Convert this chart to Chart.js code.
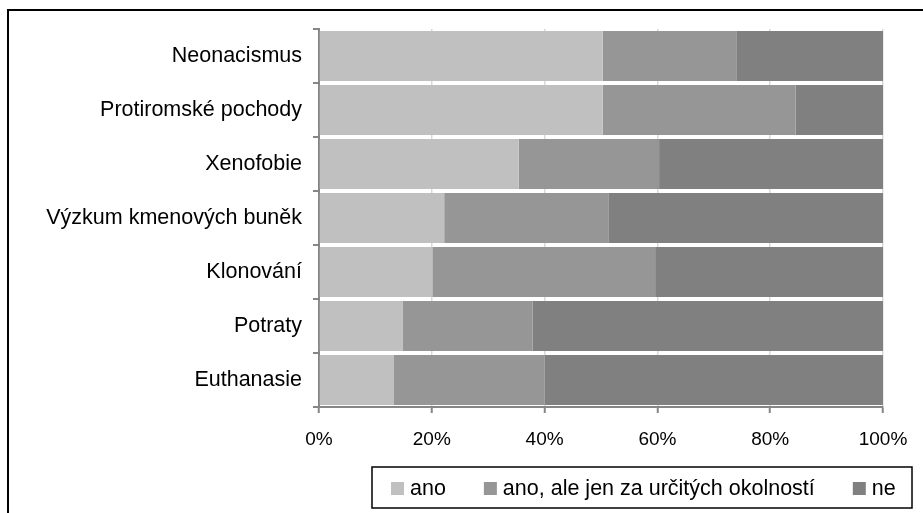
<!DOCTYPE html>
<html>
<head>
<meta charset="utf-8">
<script src="https://cdn.jsdelivr.net/npm/chart.js@4"></script>
<style>
  html, body { margin: 0; padding: 0; background: #fff; }
  #wrap { width: 923px; height: 513px; }
</style>
</head>
<body>
<div id="wrap"><canvas id="graf" width="923" height="513"></canvas></div>
<script>
// data (podíl odpovědí v %)
const kategorie = ['Neonacismus', 'Protiromské pochody', 'Xenofobie', 'Výzkum kmenových buněk', 'Klonování', 'Potraty', 'Euthanasie'];
const ano = [50.3, 50.3, 35.4, 22.2, 20.1, 14.8, 13.3];
const anoAle = [23.8, 34.2, 24.9, 29.2, 39.5, 23.1, 26.7];
const ne = [25.9, 15.5, 39.7, 48.6, 40.4, 62.1, 60.0];
const xTicky = [0, 20, 40, 60, 80, 100];

const pismo = 'Liberation Sans, Arial, sans-serif';

// rámeček kolem plochy + vlastní legenda v rámečku
const ramecky = {
    id: 'ramecky',
    afterDraw(chart) {
        const c = chart.ctx;
        c.save();
        c.strokeStyle = '#000';
        c.lineWidth = 2;
        c.beginPath();
        c.moveTo(8, 513);
        c.lineTo(8, 10);
        c.lineTo(923, 10);
        c.stroke();

        // legenda
        c.lineWidth = 1.5;
        c.strokeRect(372, 467, 540, 41);
        c.font = '21.5px ' + pismo;
        c.textBaseline = 'middle';
        let x = 391;
        const y = 489;
        chart.data.datasets.forEach(ds => {
            c.fillStyle = ds.backgroundColor;
            c.fillRect(x, y - 7, 13, 13);
            c.fillStyle = '#000';
            c.fillText(ds.label, x + 19, y);
            x += 19 + c.measureText(ds.label).width + 38;
        });
        c.restore();
    }
};

document.addEventListener('DOMContentLoaded', function () {
    const ctx = document.getElementById('graf').getContext('2d');
    new Chart(ctx, {
        type: 'bar',
        data: {
            labels: kategorie,
            datasets: [
                { label: 'ano', data: ano, backgroundColor: '#c0c0c0' },
                { label: 'ano, ale jen za určitých okolností', data: anoAle, backgroundColor: '#969696' },
                { label: 'ne', data: ne, backgroundColor: '#808080' }
            ]
        },
        options: {
            indexAxis: 'y',
            responsive: false,
            animation: false,
            datasets: { bar: { barPercentage: 0.93, categoryPercentage: 1 } },
            layout: { padding: { left: 10, right: 40, top: 29, bottom: 0 } },
            scales: {
                x: {
                    stacked: true,
                    min: 0, max: 100,
                    afterBuildTicks(s) { s.ticks = xTicky.map(v => ({ value: v })); },
                    afterFit(s) { s.height = 106; },
                    ticks: {
                        callback: v => v + '%',
                        color: '#000',
                        padding: 15,
                        font: { family: pismo, size: 19 }
                    },
                    grid: { color: '#d9d9d9', lineWidth: 1.5, tickLength: 6, tickColor: '#868686', tickWidth: 2 },
                    border: { color: '#868686', width: 2 }
                },
                y: {
                    stacked: true,
                    afterFit(s) { s.width = 309; },
                    ticks: {
                        color: '#000',
                        padding: 11,
                        font: { family: pismo, size: 21.5 }
                    },
                    grid: { offset: true, drawOnChartArea: false, tickLength: 6, color: '#868686', lineWidth: 2 },
                    border: { color: '#868686', width: 2 }
                }
            },
            plugins: {
                tooltip: { enabled: false },
                legend: { display: false }
            }
        },
        plugins: [ramecky]
    });
});
</script>
</body>
</html>
